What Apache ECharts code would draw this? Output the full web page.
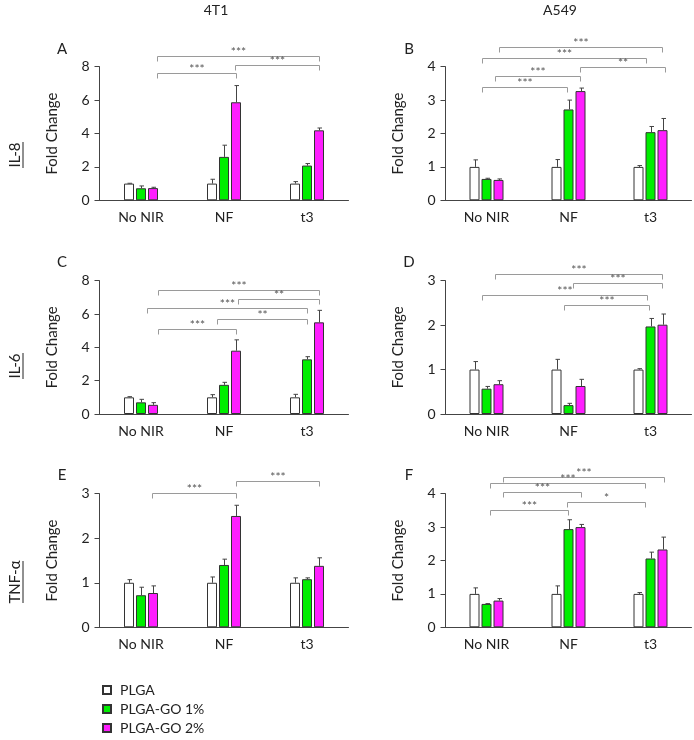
<!DOCTYPE html>
<html>
<head>
<meta charset="utf-8">
<script src="https://cdn.jsdelivr.net/npm/echarts@6/dist/echarts.min.js"></script>
<style>
html,body{margin:0;padding:0;background:#fff;}
#chart{width:694px;height:740px;}
</style>
</head>
<body>
<div id="chart"></div>
<script>
// ---------- data ----------
const categories = ['No NIR', 'NF', 't3'];
const groups = ['PLGA', 'PLGA-GO 1%', 'PLGA-GO 2%'];
const columnTitles = ['4T1', 'A549'];
const rowTitles = ['IL-8', 'IL-6', 'TNF-α'];
const panelLetters = ['A', 'B', 'C', 'D', 'E', 'F'];

// means per group: [PLGA], [PLGA-GO 1%], [PLGA-GO 2%] over categories
const A_means = [[1.0, 1.0, 1.0], [0.72, 2.6, 2.08], [0.73, 5.87, 4.19]];
const A_errs  = [[0.02, 0.26, 0.12], [0.14, 0.7, 0.12], [0.05, 1.0, 0.14]];
const B_means = [[1.0, 1.0, 1.0], [0.64, 2.72, 2.04], [0.61, 3.27, 2.1]];
const B_errs  = [[0.21, 0.22, 0.04], [0.02, 0.28, 0.17], [0.03, 0.09, 0.35]];
const C_means = [[1.0, 1.0, 1.0], [0.7, 1.75, 3.28], [0.55, 3.8, 5.5]];
const C_errs  = [[0.04, 0.16, 0.18], [0.18, 0.15, 0.16], [0.13, 0.65, 0.72]];
const D_means = [[1.0, 1.0, 1.0], [0.57, 0.2, 1.97], [0.67, 0.63, 2.01]];
const D_errs  = [[0.18, 0.23, 0.02], [0.05, 0.04, 0.18], [0.08, 0.15, 0.24]];
const E_means = [[1.0, 1.0, 1.0], [0.72, 1.4, 1.08], [0.77, 2.5, 1.38]];
const E_errs  = [[0.07, 0.13, 0.11], [0.18, 0.13, 0.03], [0.16, 0.24, 0.18]];
const F_means = [[1.0, 1.0, 1.0], [0.7, 2.94, 2.06], [0.8, 3.0, 2.33]];
const F_errs  = [[0.18, 0.24, 0.04], [0.01, 0.28, 0.19], [0.06, 0.08, 0.37]];

// y axis ranges [max, interval]
const A_axis = [8, 2], B_axis = [4, 1], C_axis = [8, 2];
const D_axis = [3, 1], E_axis = [3, 1], F_axis = [4, 1];

// significance brackets: [from (category units), to (category units), level (fold change)]
const A_sig = [[0.19, 2.14, 8.66], [1.13, 2.14, 8.12], [0.19, 1.14, 7.6]];
const A_sigLabels = ['***', '***', '***'];
const B_sig = [[0.155, 2.14, 4.6], [-0.05, 1.94, 4.25], [1.14, 2.18, 4.0], [0.107, 1.14, 3.72], [-0.05, 0.98, 3.38]];
const B_sigLabels = ['***', '***', '**', '***', '***'];
const C_sig = [[0.2, 2.14, 7.44], [1.165, 2.14, 6.92], [0.07, 2.0, 6.34], [0.92, 2.0, 5.68], [0.2, 1.145, 5.12]];
const C_sigLabels = ['***', '**', '***', '**', '***'];
const D_sig = [[0.107, 2.14, 3.15], [1.055, 2.14, 2.94], [-0.055, 1.96, 2.68], [0.95, 1.98, 2.45]];
const D_sigLabels = ['***', '***', '***', '***'];
const E_sig = [[0.136, 1.145, 3.01], [1.14, 2.15, 3.29]];
const E_sigLabels = ['***', '***'];
const F_sig = [[0.2, 2.16, 4.51], [0.04, 1.93, 4.31], [0.2, 1.15, 4.06], [0.98, 1.93, 3.76], [0.04, 0.99, 3.51]];
const F_sigLabels = ['***', '***', '***', '*', '***'];

// ---------- layout & style ----------
const FONT = 'Lato, "Open Sans", sans-serif';
const colors = ['#ffffff', '#00ee00', '#ff1eff'];
const BAR_W = 10, BAR_GAP = 2;
const grids = [
  {left: 99.5, top: 66.7, width: 249, height: 133.6},
  {left: 445.5, top: 66.7, width: 246, height: 133.6},
  {left: 99.5, top: 280.7, width: 249, height: 133.3},
  {left: 445.5, top: 280.7, width: 246, height: 133.3},
  {left: 99.5, top: 493.7, width: 249, height: 133.6},
  {left: 445.5, top: 493.7, width: 246, height: 133.6}
];
const panels = [
  {means: A_means, errs: A_errs, axis: A_axis, sig: A_sig, sigLabels: A_sigLabels},
  {means: B_means, errs: B_errs, axis: B_axis, sig: B_sig, sigLabels: B_sigLabels},
  {means: C_means, errs: C_errs, axis: C_axis, sig: C_sig, sigLabels: C_sigLabels},
  {means: D_means, errs: D_errs, axis: D_axis, sig: D_sig, sigLabels: D_sigLabels},
  {means: E_means, errs: E_errs, axis: E_axis, sig: E_sig, sigLabels: E_sigLabels},
  {means: F_means, errs: F_errs, axis: F_axis, sig: F_sig, sigLabels: F_sigLabels}
];

const xAxes = [], yAxes = [], series = [];
panels.forEach((p, i) => {
  xAxes.push({
    type: 'category', gridIndex: i, data: categories,
    axisLine: {lineStyle: {color: '#444', width: 1}},
    axisTick: {alignWithLabel: true, length: 4, lineStyle: {color: '#444'}},
    axisLabel: {fontSize: 14, color: '#222', fontFamily: FONT, margin: 10}
  });
  yAxes.push({
    type: 'value', gridIndex: i, min: 0, max: p.axis[0], interval: p.axis[1],
    axisLine: {show: true, lineStyle: {color: '#444', width: 1}},
    axisTick: {show: true, length: 5, lineStyle: {color: '#444'}},
    splitLine: {show: false},
    axisLabel: {fontSize: 14, color: '#222', fontFamily: FONT, margin: 10},
    name: 'Fold Change', nameLocation: 'middle', nameGap: 40,
    nameTextStyle: {fontSize: 15, color: '#222', fontFamily: FONT}
  });
  groups.forEach((g, gi) => {
    series.push({
      type: 'bar', name: g, xAxisIndex: i, yAxisIndex: i,
      data: p.means[gi], barWidth: BAR_W, barGap: (BAR_GAP / BAR_W * 100) + '%',
      itemStyle: {color: colors[gi], borderColor: '#333', borderWidth: 1},
      emphasis: {disabled: true}, silent: true, z: 2
    });
  });
  const errData = [];
  groups.forEach((g, gi) => {
    categories.forEach((c, ci) => errData.push([ci, p.means[gi][ci], p.errs[gi][ci], gi]));
  });
  series.push({
    type: 'custom', xAxisIndex: i, yAxisIndex: i, data: errData, z: 3, silent: true,
    encode: {x: 0, y: 1},
    renderItem: function (params, api) {
      const base = api.coord([api.value(0), api.value(1)]);
      const hi = api.coord([api.value(0), api.value(1) + api.value(2)]);
      const x = Math.round(base[0] + (api.value(3) - 1) * (BAR_W + BAR_GAP)) + 0.5;
      const st = {stroke: '#444', lineWidth: 1};
      return {type: 'group', children: [
        {type: 'line', shape: {x1: x, y1: base[1], x2: x, y2: hi[1]}, style: st},
        {type: 'line', shape: {x1: x - 2, y1: hi[1], x2: x + 2.5, y2: hi[1]}, style: st}
      ]};
    }
  });
  const sigData = p.sig.map(s => [0, s[2], s[0], s[1]]);
  const labels = p.sigLabels;
  series.push({
    type: 'custom', xAxisIndex: i, yAxisIndex: i, data: sigData, z: 4, silent: true, clip: false,
    encode: {x: 0, y: 1},
    renderItem: function (params, api) {
      const c0 = api.coord([0, api.value(1)]);
      const band = api.size([1, 0])[0];
      const x1 = Math.round(c0[0] + api.value(2) * band) + 0.5;
      const x2 = Math.round(c0[0] + api.value(3) * band) + 0.5;
      const y = Math.round(c0[1]) + 0.5;
      return {type: 'group', children: [
        {type: 'polyline', shape: {points: [[x1, y + 5], [x1, y], [x2, y], [x2, y + 5]]},
         style: {stroke: '#9a9a9a', lineWidth: 1, fill: null}},
        {type: 'text', x: (x1 + x2) / 2, y: y + 2,
         style: {text: labels[params.dataIndex], fill: '#555', fontSize: 12, fontFamily: FONT,
                 align: 'center', verticalAlign: 'bottom'}}
      ]};
    }
  });
});

const graphic = [];
const colX = [216, 560];
columnTitles.forEach((t, i) => graphic.push({
  type: 'text', x: colX[i], y: 10,
  style: {text: t, fontSize: 14, fontFamily: FONT, fill: '#222', align: 'center', verticalAlign: 'middle'}
}));
panelLetters.forEach((l, i) => graphic.push({
  type: 'text', x: (i % 2 === 0 ? 62 : 409), y: [49, 262, 475][Math.floor(i / 2)],
  style: {text: l, fontSize: 15, fontFamily: FONT, fill: '#222', align: 'center', verticalAlign: 'middle'}
}));
const rowY = [155, 366, 582];
const rowW = [26, 26, 42];
rowTitles.forEach((t, i) => graphic.push({
  type: 'group', x: 15, y: rowY[i], rotation: Math.PI / 2,
  children: [
    {type: 'text', x: 0, y: 0,
     style: {text: t, fontSize: 15, fontFamily: FONT, fill: '#222', align: 'center', verticalAlign: 'middle'}},
    {type: 'line', shape: {x1: -rowW[i] / 2, y1: 8, x2: rowW[i] / 2, y2: 8}, style: {stroke: '#222', lineWidth: 1}}
  ]
}));

const chart = echarts.init(document.getElementById('chart'), null, {renderer: 'canvas'});
chart.setOption({
  animation: false,
  backgroundColor: '#fff',
  grid: grids,
  xAxis: xAxes,
  yAxis: yAxes,
  legend: {
    data: groups, orient: 'vertical', left: 97, top: 678, height: 70,
    padding: [5, 5, 0, 5],
    itemWidth: 8, itemHeight: 8, itemGap: 5, icon: 'rect',
    textStyle: {fontSize: 14, fontFamily: FONT, color: '#222', lineHeight: 14, padding: [0, 0, 0, 4]},
    selectedMode: false
  },
  graphic: graphic,
  series: series
});
</script>
</body>
</html>
